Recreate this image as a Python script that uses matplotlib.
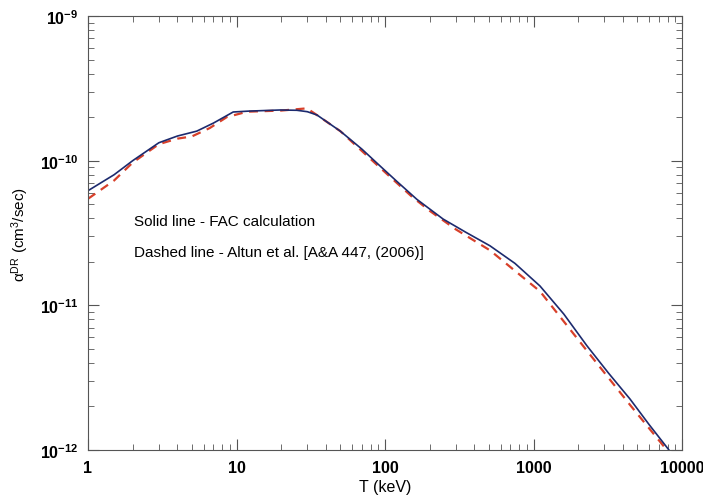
import math
import matplotlib.pyplot as plt
import matplotlib.ticker as mticker

plt.rcParams['font.family'] = ['Liberation Sans', 'DejaVu Sans']
plt.rcParams['mathtext.fontset'] = 'custom'
plt.rcParams['mathtext.rm'] = 'Liberation Sans'
plt.rcParams['mathtext.it'] = 'Liberation Sans:italic'

# FAC calculation (solid)
t_fac = [1, 1.5, 2, 3, 4, 5.4, 7, 9.5, 12, 19.6, 25.5, 30, 34.8, 50, 70, 92.5,
         120, 164, 246, 350, 509, 750, 1106, 1600, 2291, 3200, 4467, 6000, 8170]
a_fac = [6.2e-11, 8.0e-11, 1.0e-10, 1.33e-10, 1.48e-10, 1.6e-10, 1.82e-10, 2.17e-10,
         2.2e-10, 2.24e-10, 2.23e-10, 2.18e-10, 2.07e-10, 1.6e-10, 1.2e-10, 9.2e-11,
         7.2e-11, 5.4e-11, 3.95e-11, 3.2e-11, 2.58e-11, 1.95e-11, 1.36e-11, 8.7e-12,
         5.25e-12, 3.4e-12, 2.25e-12, 1.5e-12, 1.0e-12]

# Altun et al. (dashed)
t_alt = [1, 1.5, 2, 3, 4, 5, 6.6, 8.6, 11.8, 20, 29.8, 34, 50, 92, 150, 200,
         300, 509, 1106, 2291, 4467, 7900]
a_alt = [5.45e-11, 7.3e-11, 9.7e-11, 1.3e-10, 1.42e-10, 1.47e-10, 1.68e-10, 2.0e-10,
         2.18e-10, 2.22e-10, 2.3e-10, 2.1e-10, 1.6e-10, 9.0e-11, 5.7e-11, 4.5e-11,
         3.35e-11, 2.4e-11, 1.25e-11, 4.85e-12, 2.05e-12, 1.0e-12]

fig = plt.figure(figsize=(7.03, 5.02), dpi=100)
ax = fig.add_axes([88/703, 51/502, 594/703, 434/502])

ax.plot(t_alt, a_alt, color='#d8402a', lw=1.6, ls=(0, (4, 3)))
ax.plot(t_fac, a_fac, color='#1c2a6e', lw=1.2)

ax.set_xscale('log')
ax.set_yscale('log')
ax.set_xlim(1, 10000)
ax.set_ylim(1e-12, 1e-9)

ax.xaxis.set_major_formatter(mticker.FuncFormatter(lambda v, p: '%d' % round(v)))
ax.yaxis.set_major_formatter(mticker.FuncFormatter(
    lambda v, p: r'$\mathregular{10^{%d}}$' % round(math.log10(v))))
ax.xaxis.set_minor_formatter(mticker.NullFormatter())
ax.yaxis.set_minor_formatter(mticker.NullFormatter())
ax.tick_params(which='both', direction='in', top=True, right=True, color='#555555')
ax.tick_params(which='major', length=8, labelsize=11.5, pad=7)
ax.tick_params(which='minor', length=4)
for lab in ax.get_xticklabels() + ax.get_yticklabels():
    lab.set_fontweight('bold')
for s in ax.spines.values():
    s.set_color('#555555')

ax.set_xlabel('T (keV)', fontsize=11.5, labelpad=3)
ax.set_ylabel(r'$\mathregular{\alpha^{DR}}$ (cm$\mathregular{^3}$/sec)', fontsize=11, labelpad=6)

# annotation positions given in pixels from top-left of the figure
ax.text(134, 502 - 222, 'Solid line - FAC calculation', transform=None,
        fontsize=11, va='center', ha='left')
ax.text(134, 502 - 253, 'Dashed line - Altun et al. [A&A 447, (2006)]', transform=None,
        fontsize=11, va='center', ha='left')

fig.savefig('out.png', dpi=100)
